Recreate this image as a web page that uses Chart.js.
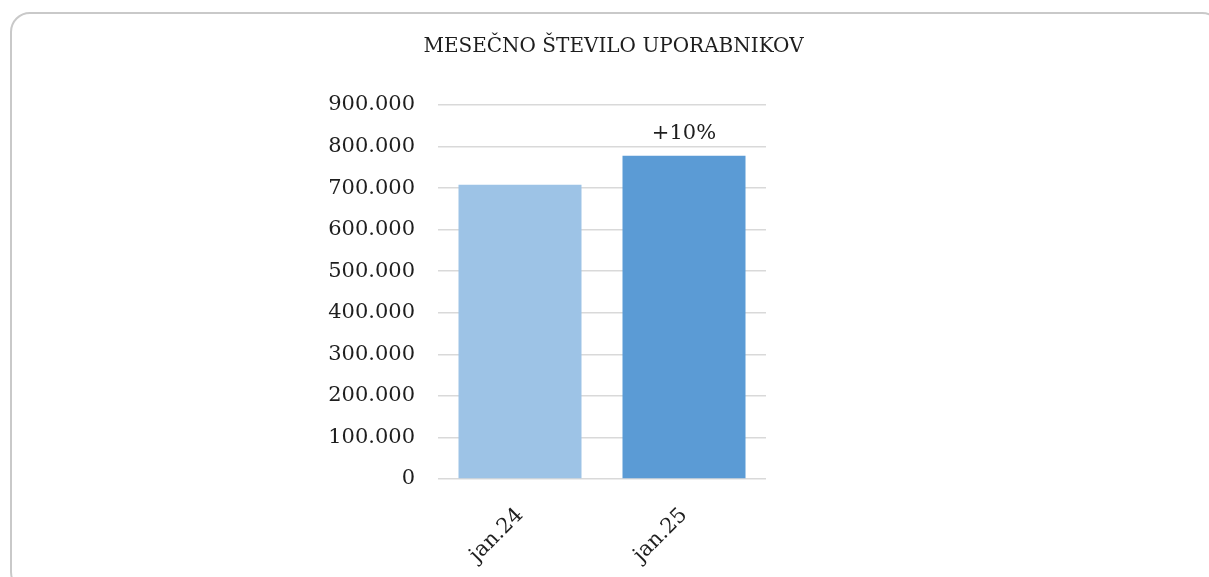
<!DOCTYPE html>
<html>
<head>
<meta charset="utf-8">
<script src="https://cdn.jsdelivr.net/npm/chart.js@4"></script>
<style>
  html, body { margin: 0; padding: 0; background: #ffffff; overflow: hidden; }
  #frame { position: absolute; left: 10px; top: 12px; width: 1212px; height: 580px;
           border: 2px solid #c9c9c9; border-radius: 20px; box-sizing: border-box; }
  #wrap { position: absolute; left: 0; top: 0; width: 1209px; height: 577px; }
</style>
</head>
<body>
<div id="frame"></div>
<div id="wrap"><canvas id="c" width="1209" height="577"></canvas></div>
<script>
const chartTitle = 'MESEČNO ŠTEVILO UPORABNIKOV';
const categories = ['jan.24', 'jan.25'];
const users = [708000, 778000];
const barColors = ['#9DC3E6', '#5B9BD5'];
const barLabels = ['', '+10%'];
const yTickLabels = ['0', '100.000', '200.000', '300.000', '400.000', '500.000', '600.000', '700.000', '800.000', '900.000'];

const FONT = '"DejaVu Serif", "Liberation Serif", serif';
const TEXT = '#1e1e1e';

const barLabelPlugin = {
  id: 'barLabel',
  afterDatasetsDraw(chart) {
    const ctx = chart.ctx;
    const meta = chart.getDatasetMeta(0);
    ctx.save();
    ctx.font = '21px ' + FONT;
    ctx.fillStyle = TEXT;
    ctx.textAlign = 'center';
    ctx.textBaseline = 'alphabetic';
    meta.data.forEach((bar, i) => {
      if (barLabels[i]) ctx.fillText(barLabels[i], bar.x, bar.y - 17);
    });
    ctx.restore();
  }
};

new Chart(document.getElementById('c'), {
  type: 'bar',
  data: {
    labels: categories,
    datasets: [{
      data: users,
      backgroundColor: barColors,
      borderWidth: 0,
      barPercentage: 0.75,
      categoryPercentage: 1.0,
      yAxisID: 'y'
    }]
  },
  options: {
    responsive: false,
    animation: false,
    devicePixelRatio: 1,
    layout: { padding: { left: 18, right: 0, top: 0, bottom: 0 } },
    plugins: {
      legend: { display: false },
      tooltip: { enabled: false },
      title: {
        display: true,
        text: chartTitle,
        color: TEXT,
        font: { family: FONT, size: 20, weight: 'normal' },
        padding: { top: 35, bottom: 46 }
      }
    },
    scales: {
      x: {
        grid: { display: false },
        border: { display: false },
        ticks: {
          color: TEXT,
          font: { family: FONT, size: 21 },
          minRotation: 45,
          maxRotation: 45,
          padding: 16
        },
        afterFit(scale) { scale.height = 98; }
      },
      y: {
        position: 'left',
        min: 0,
        max: 900000,
        grid: { color: '#d9d9d9', lineWidth: 1.6, drawTicks: false },
        border: { display: false },
        ticks: {
          stepSize: 100000,
          color: TEXT,
          font: { family: FONT, size: 21 },
          padding: 23,
          callback: (v, i) => yTickLabels[i]
        },
        afterFit(scale) { scale.width = 420; }
      },
      yRight: {
        type: 'linear',
        position: 'right',
        display: true,
        grid: { display: false },
        border: { display: false },
        ticks: { display: false },
        afterFit(scale) { scale.width = 443; }
      }
    }
  },
  plugins: [barLabelPlugin]
});
</script>
</body>
</html>
